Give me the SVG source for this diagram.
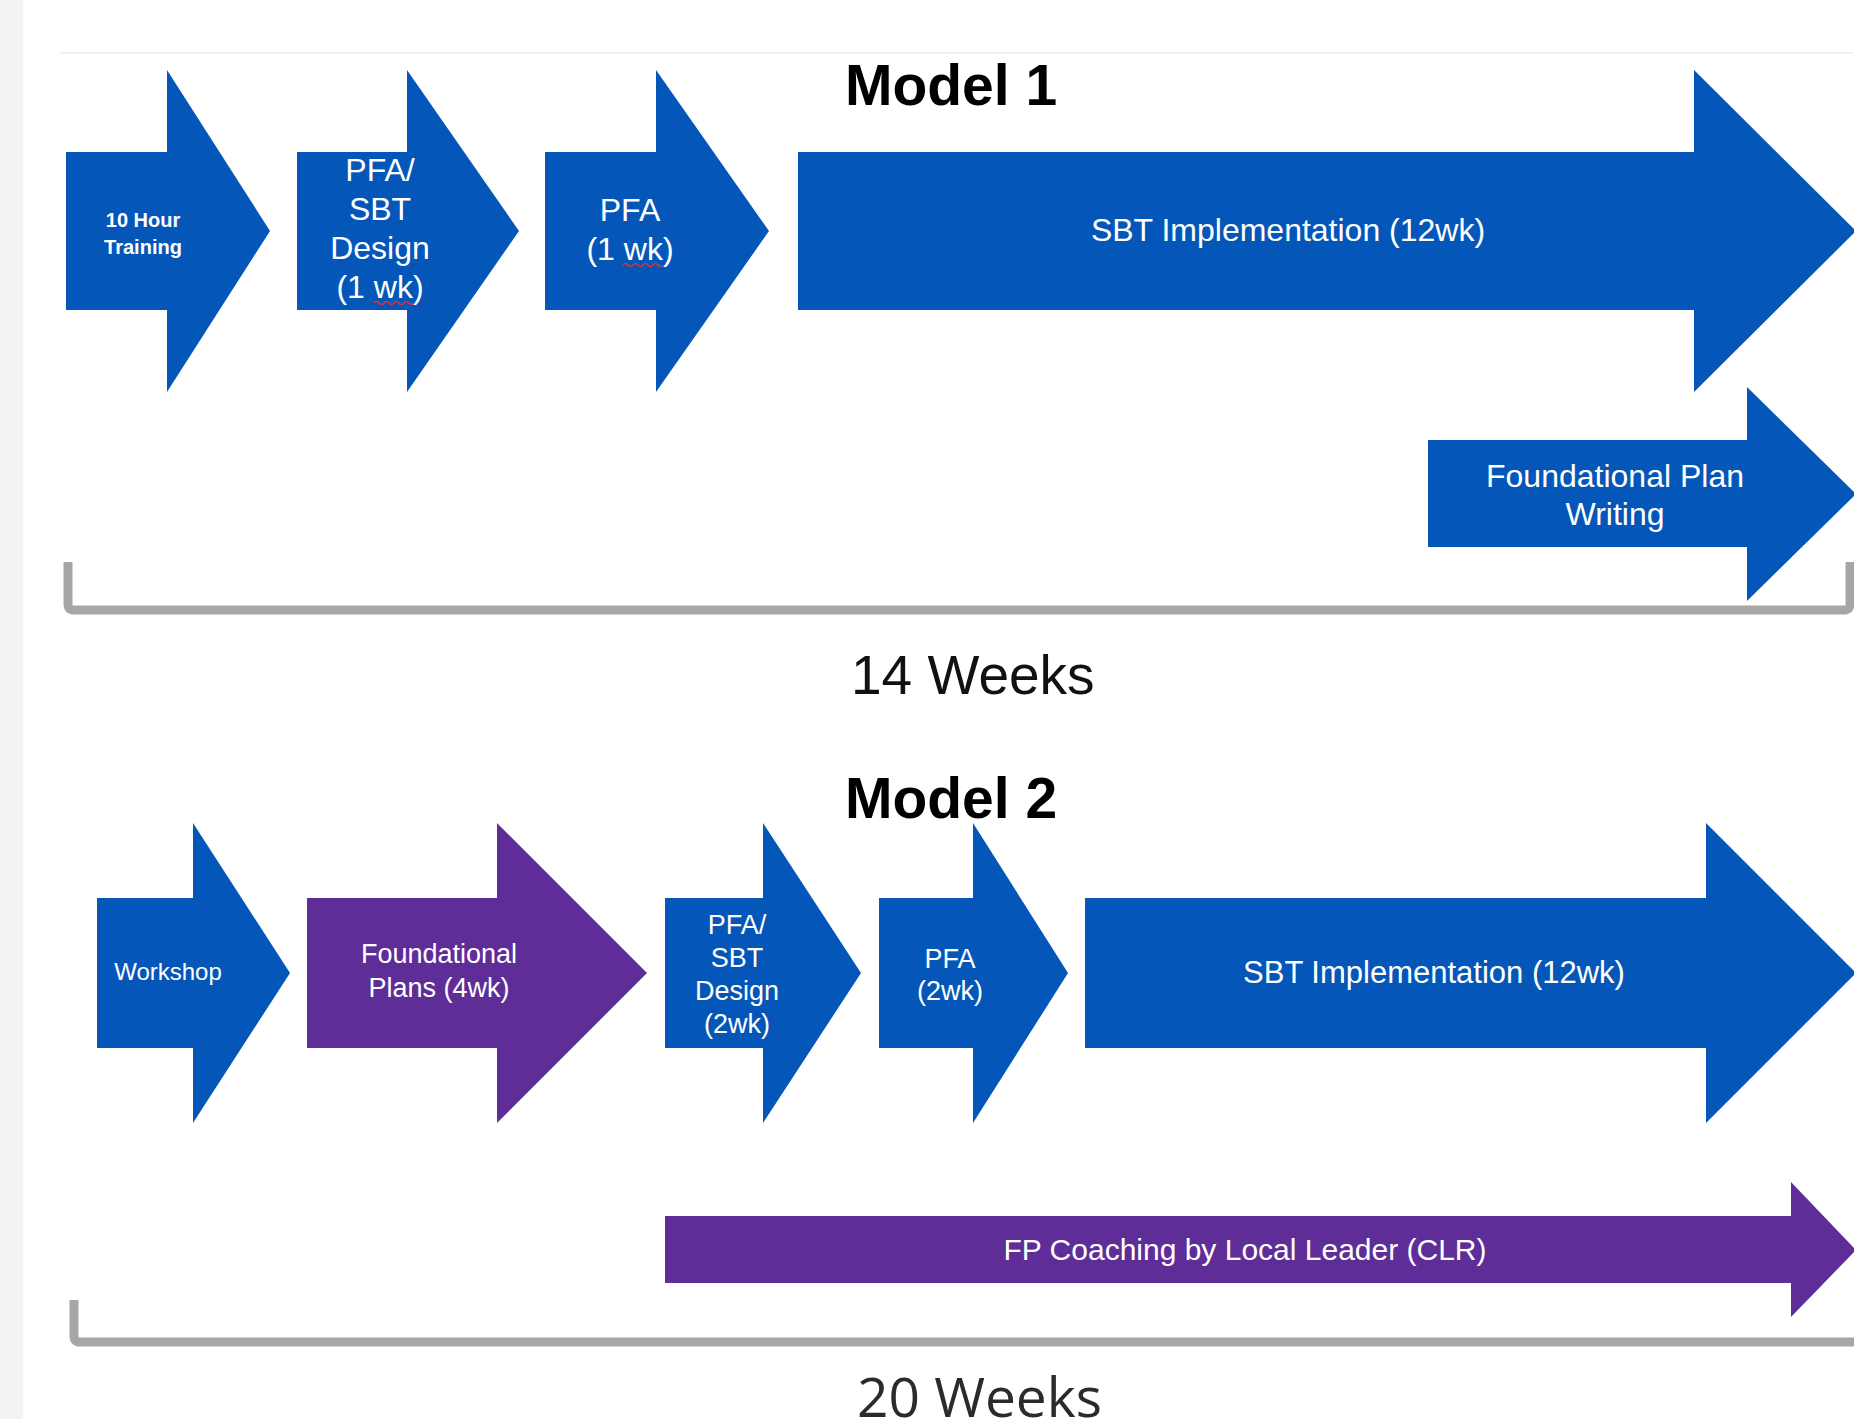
<svg xmlns="http://www.w3.org/2000/svg" width="1854" height="1419" viewBox="0 0 1854 1419">
  <defs>
    <style>
      .blue { fill: #0457b8; }
      .purple { fill: #5e2d98; }
      .lbl { font-family: "Liberation Sans", Arial, sans-serif; fill: #ffffff; text-anchor: middle; }
      .title { font-family: "Liberation Sans", Arial, sans-serif; font-weight: bold; font-size: 57px; fill: #000000; }
      .bracket { fill: none; stroke: #a6a6a6; stroke-width: 9; stroke-linejoin: round; }
      .squig { fill: none; stroke: #e0303a; stroke-width: 1.6; }
    </style>
  </defs>
  <rect x="0" y="0" width="1854" height="1419" fill="#ffffff"/>
  <rect x="0" y="0" width="23" height="1419" fill="#f1f3f5"/>
  <line x1="60" y1="53" x2="1854" y2="53" stroke="#f2f2f2" stroke-width="2"/>

  <!-- Model 1 -->
  <text class="title" x="845" y="105">Model 1</text>

  <g id="m1-training">
    <polygon class="blue" points="66,152 167,152 167,70 270,231 167,392 167,310 66,310"/>
    <text class="lbl" font-weight="bold" font-size="20" x="143" y="227">10 Hour</text>
    <text class="lbl" font-weight="bold" font-size="20" x="143" y="254">Training</text>
  </g>

  <g id="m1-pfa-sbt-design">
    <polygon class="blue" points="297,152 407,152 407,70 519,231 407,392 407,310 297,310"/>
    <text class="lbl" font-size="32" x="380" y="181">PFA/</text>
    <text class="lbl" font-size="32" x="380" y="220">SBT</text>
    <text class="lbl" font-size="32" x="380" y="259">Design</text>
    <text class="lbl" font-size="32" x="380" y="298">(1 wk)</text>
    <path class="squig" d="M374,303 q2.5,-3 5,0 t5,0 t5,0 t5,0 t5,0 t5,0 t5,0 t4,0"/>
  </g>

  <g id="m1-pfa">
    <polygon class="blue" points="545,152 656,152 656,70 769,231 656,392 656,310 545,310"/>
    <text class="lbl" font-size="32" x="630" y="221">PFA</text>
    <text class="lbl" font-size="32" x="630" y="260">(1 wk)</text>
    <path class="squig" d="M623,265 q2.5,-3 5,0 t5,0 t5,0 t5,0 t5,0 t5,0 t5,0 t4,0"/>
  </g>

  <g id="m1-sbt-implementation">
    <polygon class="blue" points="798,152 1694,152 1694,70 1856,231 1694,392 1694,310 798,310"/>
    <text class="lbl" font-size="32" x="1288" y="241">SBT Implementation (12wk)</text>
  </g>

  <g id="m1-foundational-plan-writing">
    <polygon class="blue" points="1428,440 1747,440 1747,387 1856,494 1747,601 1747,547 1428,547"/>
    <text class="lbl" font-size="32" x="1615" y="487">Foundational Plan</text>
    <text class="lbl" font-size="32" x="1615" y="525">Writing</text>
  </g>

  <g id="connectors">
    <path class="bracket" d="M68,562 V604 Q68,610 74,610 H1844 Q1850,610 1850,604 V562"/>
    <path class="bracket" d="M74,1300 V1336 Q74,1342 80,1342 H1860"/>
  </g>

  <g id="m1-duration">
    <text x="851" y="694" font-family="'Liberation Sans', Arial, sans-serif" font-size="55" fill="#111111">14 Weeks</text>
  </g>

  <!-- Model 2 -->
  <text class="title" x="845" y="818">Model 2</text>

  <g id="m2-workshop">
    <polygon class="blue" points="97,898 193,898 193,823 290,973 193,1123 193,1048 97,1048"/>
    <text class="lbl" font-size="24" x="168" y="980">Workshop</text>
  </g>

  <g id="m2-foundational-plans">
    <polygon class="purple" points="307,898 497,898 497,823 647,973 497,1123 497,1048 307,1048"/>
    <text class="lbl" font-size="27" x="439" y="963">Foundational</text>
    <text class="lbl" font-size="27" x="439" y="997">Plans (4wk)</text>
  </g>

  <g id="m2-pfa-sbt-design">
    <polygon class="blue" points="665,898 763,898 763,823 861,973 763,1123 763,1048 665,1048"/>
    <text class="lbl" font-size="27" x="737" y="934">PFA/</text>
    <text class="lbl" font-size="27" x="737" y="967">SBT</text>
    <text class="lbl" font-size="27" x="737" y="1000">Design</text>
    <text class="lbl" font-size="27" x="737" y="1033">(2wk)</text>
  </g>

  <g id="m2-pfa">
    <polygon class="blue" points="879,898 973,898 973,823 1068,973 973,1123 973,1048 879,1048"/>
    <text class="lbl" font-size="27" x="950" y="968">PFA</text>
    <text class="lbl" font-size="27" x="950" y="1000">(2wk)</text>
  </g>

  <g id="m2-sbt-implementation">
    <polygon class="blue" points="1085,898 1706,898 1706,823 1856,973 1706,1123 1706,1048 1085,1048"/>
    <text class="lbl" font-size="31" x="1434" y="983">SBT Implementation (12wk)</text>
  </g>

  <g id="m2-fp-coaching">
    <polygon class="purple" points="665,1216 1791,1216 1791,1182 1856,1250 1791,1317 1791,1283 665,1283"/>
    <text class="lbl" font-size="30" x="1245" y="1260">FP Coaching by Local Leader (CLR)</text>
  </g>

  <g id="m2-duration">
    <text x="857" y="1417" font-family="'Open Sans', 'Noto Sans', sans-serif" font-size="55" fill="#2b2b2b">20 Weeks</text>
  </g>
</svg>
